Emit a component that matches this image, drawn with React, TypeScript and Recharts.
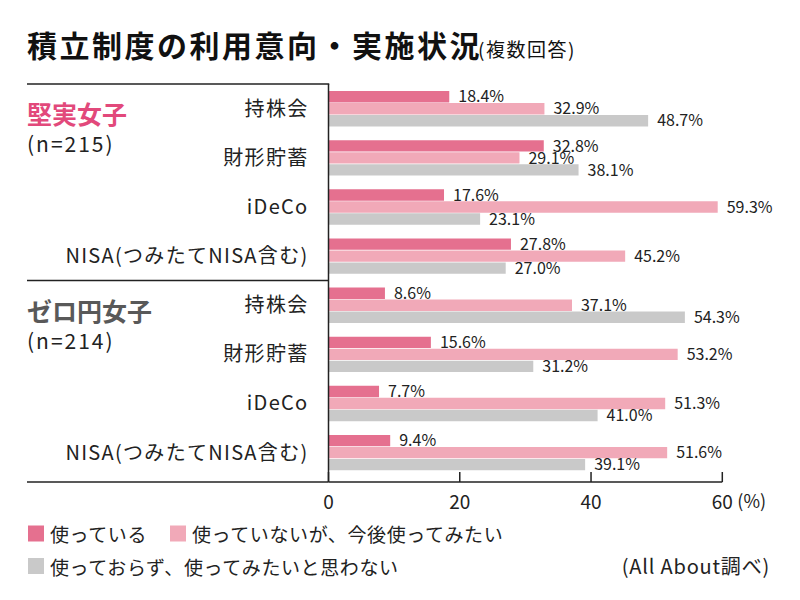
import React from 'react';
import { BarChart, Bar, XAxis, YAxis, LabelList, Customized } from 'recharts';

// Respondent groups and the savings plans asked about
const GROUPS = ['堅実女子', 'ゼロ円女子'];
const GROUP_SIZES = [215, 214];
const GROUP_COLORS = ['#e2497b', '#595959'];
const PLANS = ['持株会', '財形貯蓄', 'iDeCo', 'NISA(つみたてNISA含む)'];

// Percentages, group 1 plans then group 2 plans
const USING = [18.4, 32.8, 17.6, 27.8, 8.6, 15.6, 7.7, 9.4];
const WANT = [32.9, 29.1, 59.3, 45.2, 37.1, 53.2, 51.3, 51.6];
const NOT_WANT = [48.7, 38.1, 23.1, 27.0, 54.3, 31.2, 41.0, 39.1];

const SERIES_KEYS = ['using', 'want', 'notWant'];
const SERIES_NAMES = ['使っている', '使っていないが、今後使ってみたい', '使っておらず、使ってみたいと思わない'];
const SERIES_COLORS = ['#e5708f', '#f1a9b8', '#c9c9c9'];

const X_TICKS = [0, 20, 40, 60];
const X_DOMAIN = [0, 60];

const TITLE = '積立制度の利用意向・実施状況';
const SUBTITLE = '(複数回答)';
const SOURCE = '(All About調べ)';

const rows = GROUPS.flatMap((_, gi) =>
  PLANS.map((plan, pi) => {
    const i = gi * PLANS.length + pi;
    return { id: `${gi}-${pi}`, plan, using: USING[i], want: WANT[i], notWant: NOT_WANT[i] };
  })
);

// Layout
const W = 800;
const H = 600;
const FRAME_LEFT = 27;
const PLOT_LEFT = 328.5;
const PLOT_RIGHT = 722.3;
const PLOT_TOP = 84;
const PLOT_BOTTOM = 482;
const Y_PAD_BOTTOM = 5;
const X_AXIS_H = 30;
const BAND = (PLOT_BOTTOM - Y_PAD_BOTTOM - PLOT_TOP) / rows.length;
const FONT = '"Noto Sans CJK JP", "Noto Sans", sans-serif';
const INK = '#222';

const planLabel = (id: string) => rows.find((r) => r.id === id)?.plan ?? '';

const XTick = (props: any) => {
  const { x, y, payload } = props;
  return (
    <g>
      <line x1={x} x2={x} y1={y - 10} y2={y} stroke={INK} strokeWidth={1.5} />
      <text x={x} y={y + 18} textAnchor="middle" dominantBaseline="central" fontSize={19} fill={INK} fontFamily={FONT}>
        {payload.value}
      </text>
      {payload.value === X_DOMAIN[1] && (
        <text x={x + 15} y={y + 18} textAnchor="start" dominantBaseline="central" fontSize={18} fill={INK} fontFamily={FONT}>
          (%)
        </text>
      )}
    </g>
  );
};

const Frame = () => {
  const sep = PLOT_TOP + BAND * PLANS.length;
  return (
    <g stroke={INK} strokeWidth={1.5}>
      <line x1={FRAME_LEFT} x2={PLOT_LEFT + 0.75} y1={PLOT_TOP} y2={PLOT_TOP} />
      <line x1={FRAME_LEFT} x2={PLOT_LEFT} y1={sep} y2={sep} />
      <line x1={FRAME_LEFT} x2={PLOT_LEFT} y1={PLOT_BOTTOM} y2={PLOT_BOTTOM} />
    </g>
  );
};

export default function App() {
  const sep = PLOT_TOP + BAND * PLANS.length;
  const groupTops = [PLOT_TOP, sep];
  return (
    <div style={{ position: 'absolute', left: 0, top: 0, width: W, height: H, background: '#fff', fontFamily: FONT }}>
      <BarChart
        width={W}
        height={H}
        data={rows}
        layout="vertical"
        margin={{ top: PLOT_TOP, right: W - PLOT_RIGHT, bottom: H - PLOT_BOTTOM - X_AXIS_H, left: 0 }}
        barSize={11.4}
        barGap={0.6}
      >
        <XAxis
          type="number"
          domain={X_DOMAIN}
          ticks={X_TICKS}
          interval={0}
          height={X_AXIS_H}
          axisLine={{ stroke: INK, strokeWidth: 1.5 }}
          tickLine={false}
          tickSize={0}
          tickMargin={0}
          tick={<XTick />}
        />
        <YAxis
          type="category"
          dataKey="id"
          width={PLOT_LEFT}
          padding={{ top: 0, bottom: Y_PAD_BOTTOM }}
          axisLine={{ stroke: INK, strokeWidth: 1.5 }}
          tickLine={false}
          tickSize={0}
          tickMargin={20}
          interval={0}
          tickFormatter={planLabel}
          tick={{ fontSize: 20, fill: INK, fontFamily: FONT, letterSpacing: 1.3 }}
        />
        {SERIES_KEYS.map((key, i) => (
          <Bar key={key} dataKey={key} name={SERIES_NAMES[i]} fill={SERIES_COLORS[i]} isAnimationActive={false}>
            <LabelList
              dataKey={key}
              position="right"
              offset={9}
              fontSize={16}
              fill={INK}
              fontFamily={FONT}
              formatter={(v: any) => `${Number(v).toFixed(1)}%`}
            />
          </Bar>
        ))}
        <Customized component={<Frame />} />
      </BarChart>

      <svg width={W} height={H} style={{ position: 'absolute', left: 0, top: 0, pointerEvents: 'none' }} fontFamily={FONT}>
        <text x={27} y={43.5} fontSize={30} fontWeight={700} letterSpacing={2.5} fill="#111" dominantBaseline="central">
          {TITLE}
        </text>
        <text x={478} y={48.5} fontSize={19} fill="#111" dominantBaseline="central" letterSpacing={1.5}>
          {SUBTITLE}
        </text>

        {GROUPS.map((g, gi) => (
          <g key={g}>
            <text x={FRAME_LEFT} y={groupTops[gi] + 29} fontSize={25} fontWeight={700} fill={GROUP_COLORS[gi]} dominantBaseline="central">
              {g}
            </text>
            <text x={FRAME_LEFT} y={groupTops[gi] + 59} fontSize={21} fill={INK} dominantBaseline="central" letterSpacing={2}>
              {`(n=${GROUP_SIZES[gi]})`}
            </text>
          </g>
        ))}

        {/* legend */}
        {[
          { i: 0, x: 28, y: 533.5 },
          { i: 1, x: 170, y: 533.5 },
          { i: 2, x: 28, y: 566 },
        ].map(({ i, x, y }) => (
          <g key={SERIES_KEYS[i]}>
            <rect x={x} y={y - 8} width={16} height={16} fill={SERIES_COLORS[i]} />
            <text x={x + 22} y={y} fontSize={19} fill={INK} dominantBaseline="central" letterSpacing={0.6}>
              {SERIES_NAMES[i]}
            </text>
          </g>
        ))}

        <text x={770} y={565} fontSize={20} fill={INK} textAnchor="end" dominantBaseline="central" letterSpacing={0.8}>
          {SOURCE}
        </text>
      </svg>
    </div>
  );
}
